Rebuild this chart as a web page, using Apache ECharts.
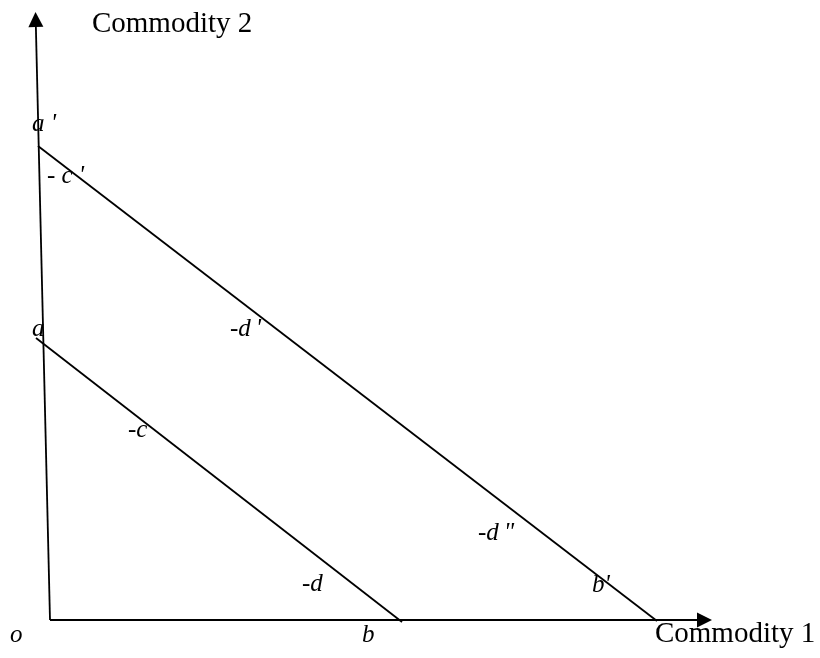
<!DOCTYPE html>
<html>
<head>
<meta charset="utf-8">
<script src="https://cdn.jsdelivr.net/npm/echarts@6/dist/echarts.min.js"></script>
<style>html,body{margin:0;padding:0;background:#fff}#c{width:820px;height:658px}</style>
</head>
<body>
<div id="c"></div>
<script>
// Data coordinates: origin o at the corner of the axes, x to the right, y upward (pixel-like units).
const xAxisArrow = [[0, 0], [654.5, 0]];
const yAxisArrow = [[0, 0], [-14.3, 600.5]];
const budgetLineAB = [[-14, 282], [352, -2]];
const budgetLineA2B2 = [[-12, 474], [607, -1]];
// label text, anchor [x, baseline y], italic?
const labelTexts = ["Commodity 2", "a '", "- c '", "a", "-d\u2009'", "-c", "-d\u2009\"", "-d", "b'", "o", "b", "Commodity 1"];
const labelAnchors = [[42, 587], [-18, 488], [-3, 436], [-18, 283], [180, 283], [78, 182], [428, 79], [252, 28], [542, 27], [-40, -23], [312, -23], [605, -23]];
const labelItalic = [false, true, true, true, true, true, true, true, true, true, true, false];

const chart = echarts.init(document.getElementById('c'), null, {renderer: 'canvas'});
const lineStyle = {color: '#000', width: 1.8};
const labelData = labelTexts.map((t, i) => {
  const size = labelItalic[i] ? 25 : 29;
  return {
    value: labelAnchors[i],
    name: t,
    label: {
      show: true,
      formatter: t,
      position: [0, 0],
      align: 'left',
      verticalAlign: 'bottom',
      offset: [0, Math.round(size * 0.195)],
      fontFamily: 'Liberation Serif',
      fontStyle: labelItalic[i] ? 'italic' : 'normal',
      fontWeight: 'normal',
      fontSize: size,
      lineHeight: size,
      color: '#000',
      textBorderWidth: 0,
      opacity: 1
    }
  };
});
function arrow(pts) {
  return [{coord: pts[0], symbol: 'none'}, {coord: pts[1], symbol: 'triangle', symbolSize: [15, 15]}];
}
chart.setOption({
  animation: false,
  backgroundColor: '#fff',
  grid: {left: 0, right: 0, top: 0, bottom: 0},
  xAxis: {type: 'value', min: -50, max: 770, show: false},
  yAxis: {type: 'value', min: -38, max: 620, show: false},
  series: [
    {
      type: 'line', data: budgetLineAB, showSymbol: false, symbol: 'none', lineStyle: lineStyle, silent: true,
      markLine: {
        silent: true, animation: false,
        label: {show: false},
        lineStyle: {color: '#000', width: 1.8, type: 'solid'},
        itemStyle: {color: '#000'},
        data: [arrow(xAxisArrow), arrow(yAxisArrow)]
      }
    },
    {type: 'line', data: budgetLineA2B2, showSymbol: false, symbol: 'none', lineStyle: lineStyle, silent: true},
    {type: 'scatter', data: labelData, symbolSize: 0.1, itemStyle: {color: 'rgba(0,0,0,0)'}, silent: true}
  ]
});
</script>
</body>
</html>
